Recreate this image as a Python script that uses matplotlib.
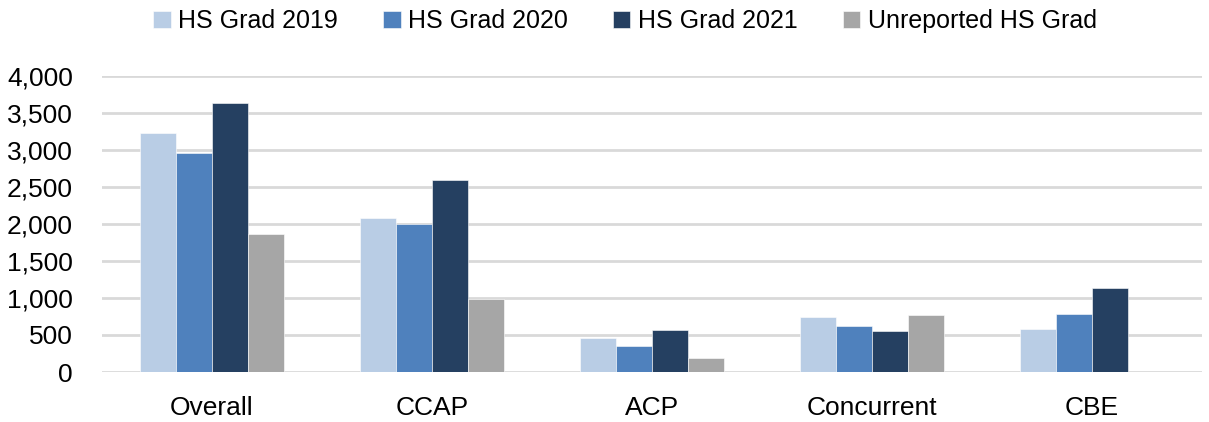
import numpy as np
import matplotlib
matplotlib.use("Agg")
import matplotlib.pyplot as plt

# ---------- data ----------
categories = ["Overall", "CCAP", "ACP", "Concurrent", "CBE"]
series_names = ["HS Grad 2019", "HS Grad 2020", "HS Grad 2021", "Unreported HS Grad"]
grad_2019 = [3235, 2085, 465, 745, 578]
grad_2020 = [2965, 2005, 350, 618, 786]
grad_2021 = [3630, 2588, 565, 560, 1140]
unreported = [1868, 993, 185, 772, 0]
yticks = [0, 500, 1000, 1500, 2000, 2500, 3000, 3500, 4000]

colors = ["#B9CDE5", "#4F81BD", "#254061", "#A6A6A6"]

plt.rcParams['font.family'] = ['Liberation Sans', 'DejaVu Sans']

fig = plt.figure(figsize=(12.09, 4.22), dpi=100)
ax = fig.add_axes([102/1209, 50/422, 1100/1209, 296/422])

x = np.arange(len(categories))
bw = 0.164
all_series = [grad_2019, grad_2020, grad_2021, unreported]
for i, (vals, name, c) in enumerate(zip(all_series, series_names, colors)):
    ax.bar(x + (i - 1.5) * bw, vals, bw, color=c, label=name, zorder=3,
           edgecolor="white", linewidth=0.4)

ax.set_xlim(-0.5, len(categories) - 0.5)
ax.set_ylim(0, 4000)
ax.set_yticks(yticks)
ax.set_yticklabels([f"{v:,}" for v in yticks])
ax.set_xticks(x)
ax.set_xticklabels(categories)
ax.tick_params(axis="both", length=0, labelsize=19, colors="black")
ax.tick_params(axis="y", pad=21)
ax.tick_params(axis="x", pad=17)
ax.grid(axis="y", color="#D9D9D9", linewidth=2, zorder=0)
for s in ax.spines.values():
    s.set_visible(False)

fig.legend(loc="center", bbox_to_anchor=(0.517, 0.950), ncol=4, frameon=False,
           fontsize=18, handlelength=0.7, handleheight=0.7, handletextpad=0.3,
           columnspacing=1.8)

fig.savefig("out.png", dpi=100)
